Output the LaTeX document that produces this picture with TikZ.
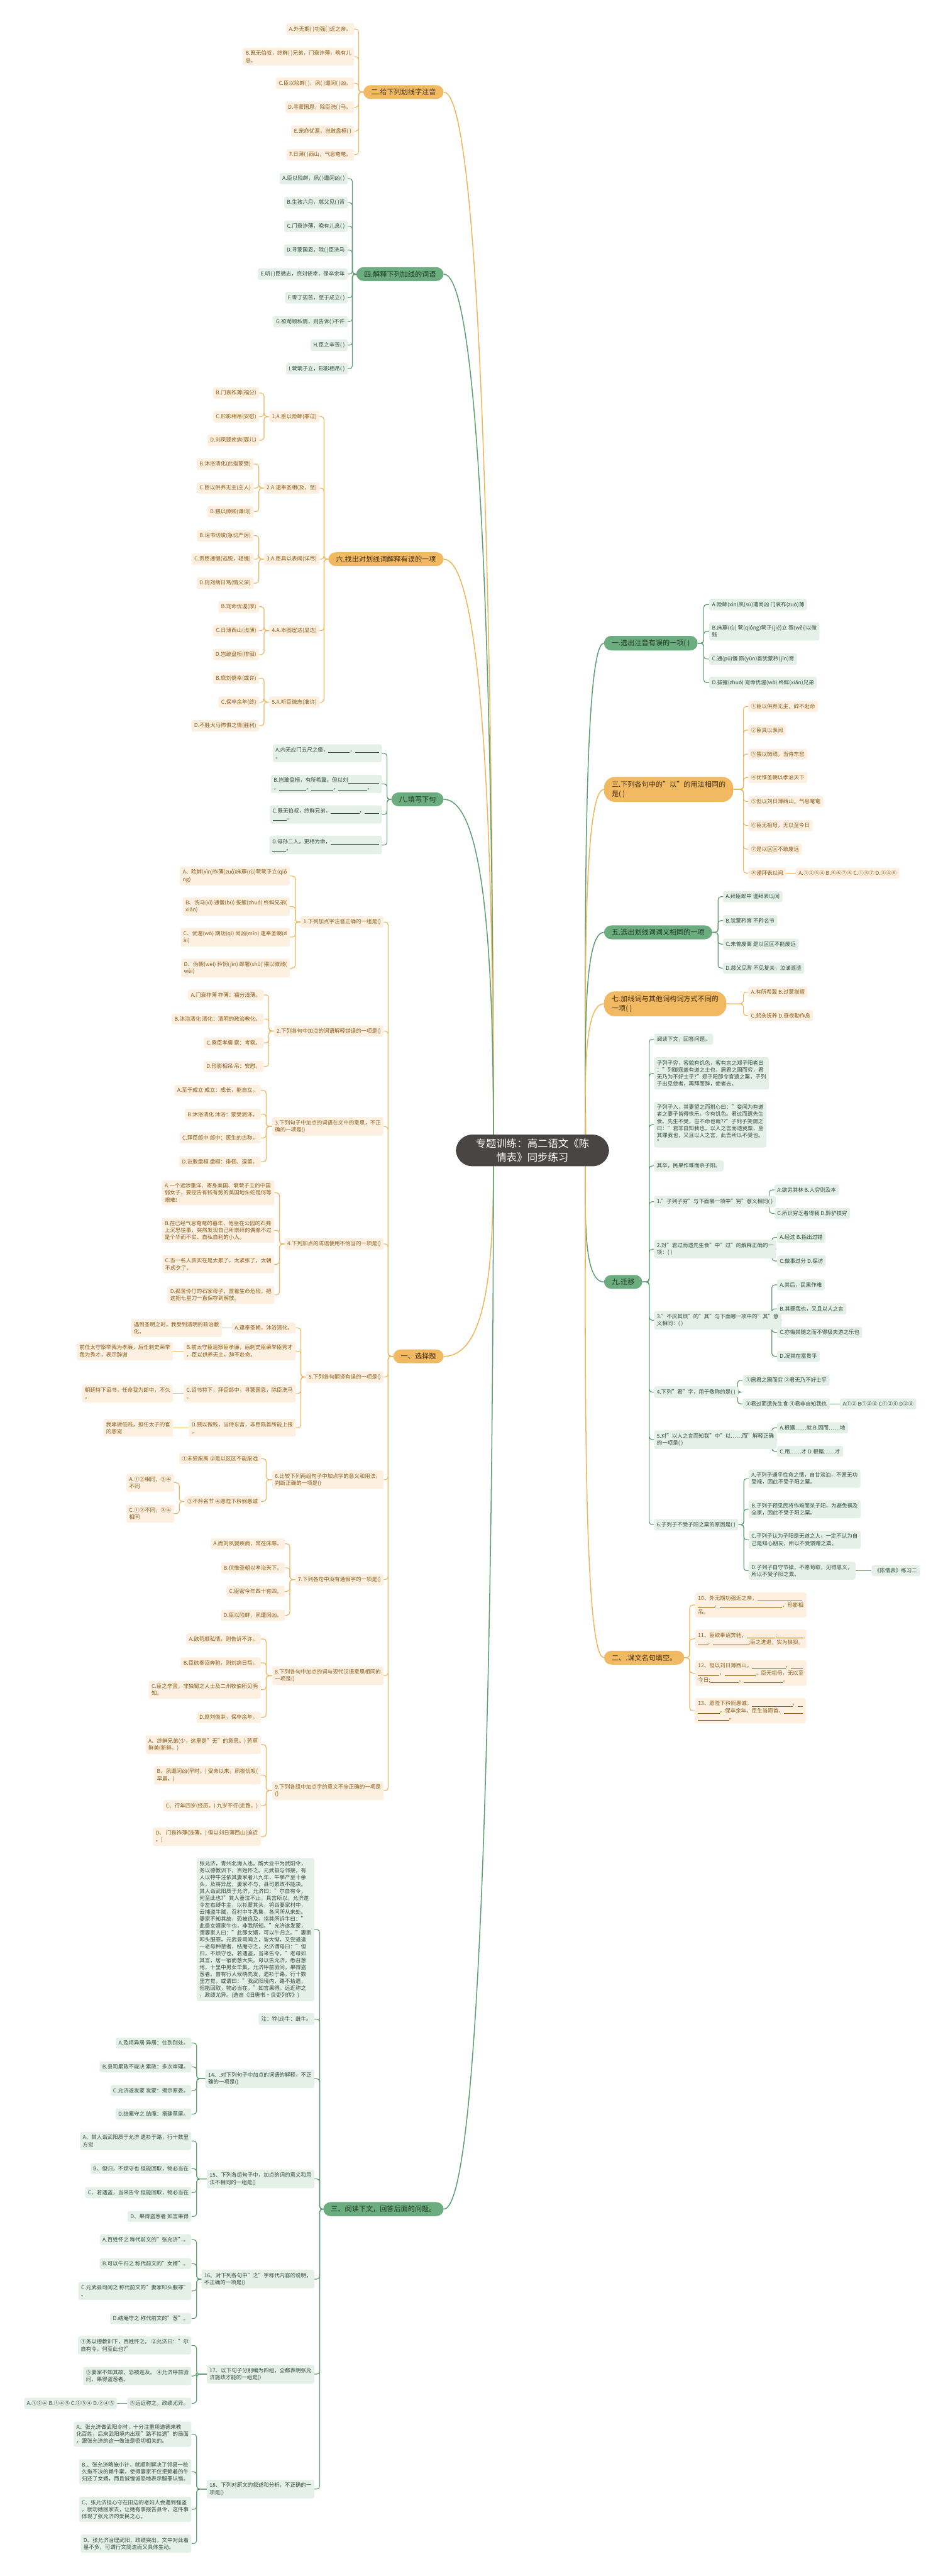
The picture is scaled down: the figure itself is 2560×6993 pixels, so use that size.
\documentclass[tikz,border=0pt]{standalone}
\usepackage{fontspec}
\setmainfont{Noto Sans CJK SC}
\usetikzlibrary{calc}
\definecolor{lofill}{HTML}{FDF0E1}
\definecolor{lotext}{HTML}{8A5A16}
\definecolor{lgfill}{HTML}{E5F0E8}
\definecolor{lgtext}{HTML}{2E4A3A}
\definecolor{mofill}{HTML}{F2B963}
\definecolor{motext}{HTML}{3F2C12}
\definecolor{mgfill}{HTML}{6BAD7E}
\definecolor{mgtext}{HTML}{1C3323}
\definecolor{lineO}{HTML}{EFB65C}
\definecolor{lineG}{HTML}{5F9E71}
\definecolor{cfill}{HTML}{4A4545}
\pgfdeclarelayer{bgl}\pgfdeclarelayer{lnl}\pgfsetlayers{bgl,lnl,main}
\newcommand\fs{\fontsize{14.5}{19.2}\selectfont}
\newcommand\fp{\fontsize{14.5}{18.8}\selectfont}
\newcommand\fm{\fontsize{19}{26}\selectfont}
\newcommand\bl[1]{\rule[-2pt]{#1pt}{0.8pt}}
\tikzset{
 leafbase/.style={rounded corners=5pt,inner xsep=7.5pt,inner ysep=8pt,align=left,font=\fs},
 lo/.style={leafbase,fill=lofill,text=lotext},
 lg/.style={leafbase,fill=lgfill,text=lgtext},
 mainbase/.style={rounded corners=20pt,inner xsep=21pt,inner ysep=10pt,align=left,font=\fm},
 mo/.style={mainbase,fill=mofill,text=motext},
 mg/.style={mainbase,fill=mgfill,text=mgtext},
 mo2/.style={mo,rounded corners=30pt,inner ysep=11pt},
 centerbox/.style={fill=cfill,text=white,rounded corners=45pt,inner xsep=54pt,inner ysep=12pt,align=center,font=\fontsize{28}{36}\selectfont},
 co/.style={draw=lineO,line width=2pt,rounded corners=8pt},
 cg/.style={draw=lineG,line width=2pt,rounded corners=8pt},
 bo/.style={draw=lineO,line width=2.6pt},
 bg/.style={draw=lineG,line width=2.6pt}
}
\newcommand\nL[5]{\node[#1,anchor=east] (#2) at (#3,#4) {#5};}
\newcommand\nR[5]{\node[#1,anchor=west] (#2) at (#3,#4) {#5};}
\newcommand\cL[4]{\draw[#1] let \p1=(#2.west) in (\p1) -- (#4pt,\y1) |- (#3.east);}
\newcommand\cR[4]{\draw[#1] let \p1=(#2.east) in (\p1) -- (#4pt,\y1) |- (#3.west);}
\newcommand\mL[3]{\draw[#1] (#2.east) .. controls +(130,0) and +(0,#3) .. (PL);}
\newcommand\mR[3]{\draw[#1] (#2.west) .. controls +(-60,0) and +(0,#3) .. (PR);}
\begin{document}
\begin{tikzpicture}[x=1pt,y=-1pt]
\begin{pgfonlayer}{bgl}\fill[white] (0,0) rectangle (2560,6993);\end{pgfonlayer}
\useasboundingbox (0,0) rectangle (2560,6993);
\coordinate (PL) at (1340,3123);
\coordinate (PR) at (1590,3123);
\node[centerbox] (C) at (1446,3123) {专题训练：高二语文《陈\\情表》同步练习};

% ===== LEFT: 二 =====
\nL{mo}{A2}{1205}{250}{二.给下列划线字注音}
\nL{lo}{A2a}{962}{79}{A.外无期( )功强( )近之亲。}
\nL{lo}{A2b}{962}{154}{B.既无伯叔，终鲜( )兄弟，门衰诈薄，晚有儿\\息。}
\nL{lo}{A2c}{962}{226}{C.臣以险衅( )，夙( )遭闵( )凶。}
\nL{lo}{A2d}{962}{291}{D.寻蒙国恩，除臣洗( )马。}
\nL{lo}{A2e}{962}{356}{E.宠命优渥，岂敢盘桓( )}
\nL{lo}{A2f}{962}{420}{F.日薄( )西山，气息奄奄。}
% ===== 四 =====
\nL{mg}{A4}{1205}{744}{四.解释下列加线的词语}
\nL{lg}{A4a}{944}{485}{A.臣以险衅，夙( )遭闵凶( )}
\nL{lg}{A4b}{944}{550}{B.生孩六月，慈父见( )背}
\nL{lg}{A4c}{944}{614}{C.门衰诈薄，晚有儿息( )}
\nL{lg}{A4d}{944}{679}{D.寻蒙国恩，除( )臣洗马}
\nL{lg}{A4e}{944}{744}{E.听( )臣微志，庶刘侥幸，保卒余年}
\nL{lg}{A4f}{944}{808}{F.零丁孤苦，至于成立( )}
\nL{lg}{A4g}{944}{873}{G.欲苟顺私情，则告诉( )不许}
\nL{lg}{A4h}{944}{937}{H.臣之辛苦( )}
\nL{lg}{A4i}{944}{1001}{I.茕茕孑立，形影相吊( )}
% ===== 六 =====
\nL{mo}{A6}{1205}{1518}{六.找出对划线词解释有误的一项}
\nL{lo}{A61}{868}{1131}{1.A.臣以险衅(罪过)}
\nL{lo}{A62}{868}{1325}{2.A.逮奉圣相(及，至)}
\nL{lo}{A63}{868}{1518}{3.A.臣具以表闻(详尽)}
\nL{lo}{A64}{868}{1712}{4.A.本图宦达(显达)}
\nL{lo}{A65}{868}{1906}{5.A.听臣微志(准许)}
\nL{lo}{A61b}{704}{1067}{B.门衰祚薄(福分)}
\nL{lo}{A61c}{704}{1131}{C.形影相吊(安慰)}
\nL{lo}{A61d}{704}{1195}{D.刘夙婴疾病(婴儿)}
\nL{lo}{A62b}{689}{1260}{B.沐浴清化(此指蒙受)}
\nL{lo}{A62c}{689}{1325}{C.臣以供养无主(主人)}
\nL{lo}{A62d}{689}{1389}{D.猥以微贱(谦词)}
\nL{lo}{A63b}{689}{1454}{B.诏书切峻(急切严厉)}
\nL{lo}{A63c}{689}{1518}{C.责臣逋慢(逃脱，轻慢)}
\nL{lo}{A63d}{689}{1583}{D.则刘病日笃(情义深)}
\nL{lo}{A64b}{704}{1647}{B.宠命优渥(厚)}
\nL{lo}{A64c}{704}{1712}{C.日薄西山(浅薄)}
\nL{lo}{A64d}{704}{1777}{D.岂敢盘桓(徘徊)}
\nL{lo}{A65b}{704}{1841}{B.庶刘侥幸(或许)}
\nL{lo}{A65c}{704}{1906}{C.保卒余年(终)}
\nL{lo}{A65d}{704}{1970}{D.不胜犬马怖惧之情(胜利)}
% ===== 八 =====
\nL{mg}{A8}{1205}{2170}{八.填写下句}
\nL{lg}{A8a}{1037}{2045}{A.内无应门五尺之僮，\bl{58}，\bl{65}\\。}
\nL{lg}{A8b}{1037}{2128}{B.岂敢盘桓，有所希冀。但以刘\bl{84}\\，\bl{73}，\bl{59}，\bl{79}。}
\nL{lg}{A8c}{1037}{2211}{C.既无伯叔，终鲜兄弟，\bl{77}，\bl{39}\\\bl{38}。}
\nL{lg}{A8d}{1037}{2294}{D.母孙二人，更相为命，\bl{131}\\\bl{38}。}
% ===== 一、选择题 =====
\nL{mo}{A1}{1205}{3682}{一、选择题}
\nL{lo}{Q1}{1042}{2503}{1.下列加点字注音正确的一组是()}
\nL{lo}{Q1a}{787}{2378}{A、险衅(xìn)祚薄(zuò)床蓐(rù)茕茕孑立(qió\\ng)}
\nL{lo}{Q1b}{787}{2461}{B、洗马(xǐ) 逋慢(bū) 拔擢(zhuó) 终鲜兄弟(\\xiǎn)}
\nL{lo}{Q1c}{787}{2544}{C、优渥(wò) 期功(qī) 闵凶(mǐn) 逮奉圣朝(d\\ài)}
\nL{lo}{Q1d}{787}{2628}{D、伪朝(wèi) 矜悯(jīn) 郎署(shǔ) 猥以微贱(\\wèi)}
\nL{lo}{Q2}{1042}{2799}{2.下列各句中加点的词语解释错误的一项是()}
\nL{lo}{Q2a}{716}{2701}{A.门衰祚薄 祚薄：福分浅薄。}
\nL{lo}{Q2b}{716}{2766}{B.沐浴清化 清化：清明的政治教化。}
\nL{lo}{Q2c}{716}{2831}{C.察臣孝廉 察：考察。}
\nL{lo}{Q2d}{716}{2895}{D.形影相吊 吊：安慰。}
\nL{lo}{Q3}{1042}{3058}{3.下列句子中加点的词语在文中的意思，不正\\确的一项是()}
\nL{lo}{Q3a}{708}{2960}{A.至于成立 成立：成长，能自立。}
\nL{lo}{Q3b}{708}{3025}{B.沐浴清化 沐浴：蒙受润泽。}
\nL{lo}{Q3c}{708}{3089}{C.拜臣郎中 郎中：医生的古称。}
\nL{lo}{Q3d}{708}{3154}{D.岂敢盘桓 盘桓：徘徊、逗留。}
\nL{lo}{Q4}{1042}{3377}{4.下列加点的成语使用不恰当的一项是()}
\nL{lo}{Q4a}{745}{3238}{A.一个远涉重洋、寄身美国、茕茕孑立的中国\\弱女子，要控告有钱有势的美国地头蛇是何等\\艰难!}
\nL{lo}{Q4b}{745}{3340}{B.在已经气息奄奄的暮年，他坐在公园的石凳\\上沉思往事，突然发现自己所崇拜的偶像不过\\是个华而不实、自私自利的小人。}
\nL{lo}{Q4c}{745}{3432}{C.当一名人质实在是太累了，太紧张了，太朝\\不虑夕了。}
\nL{lo}{Q4d}{745}{3515}{D.孤苦伶仃的石家母子，冒着生命危险，把\\这把七星刀一直保存到解放。}
\nL{lo}{Q5}{1042}{3738}{5.下列各句翻译有误的一项是()}
\nL{lo}{Q5a}{803}{3605}{A.逮奉圣朝，沐浴清化。}
\nL{lo}{Q5b}{803}{3668}{B.前太守臣逵察臣孝廉，后刺史臣荣举臣秀才\\，臣以供养无主，辞不赴命。}
\nL{lo}{Q5c}{803}{3783}{C.诏书特下，拜臣郎中，寻蒙国恩，除臣洗马\\。}
\nL{lo}{Q5d}{803}{3876}{D.猥以微贱，当侍东宫，非臣陨首所能上报\\。}
\nL{lo}{Q5ax}{603}{3605}{遇到圣明之时，我受到清明的政治教\\化。}
\nL{lo}{Q5bx}{470}{3668}{前任太守察举我为孝廉，后任刺史荣举\\我为秀才，表示辞谢}
\nL{lo}{Q5cx}{470}{3783}{朝廷特下诏书，任命我为郎中，不久\\。}
\nL{lo}{Q5dx}{470}{3876}{我卑微低贱，担任太子的官\\的恩宠}
\nL{lo}{Q6}{1042}{4017}{6.比较下列两组句子中加点字的意义和用法，\\判断正确的一项是()}
\nL{lo}{Q6a}{708}{3960}{①未尝废离 ②是以区区不能废远}
\nL{lo}{Q6b}{708}{4076}{③不矜名节 ④愿陛下矜悯愚诚}
\nL{lo}{Q6b1}{473}{4025}{A.①②相同，③④\\不同}
\nL{lo}{Q6b2}{473}{4109}{C.①②不同，③④\\相同}
\nL{lo}{Q7}{1042}{4288}{7.下列各句中没有通假字的一项是()}
\nL{lo}{Q7a}{774}{4191}{A.而刘夙婴疾病，常在床蓐。}
\nL{lo}{Q7b}{774}{4256}{B.伏惟圣朝以孝治天下。}
\nL{lo}{Q7c}{774}{4320}{C.臣密今年四十有四。}
\nL{lo}{Q7d}{774}{4385}{D.臣以险衅，夙遭闵凶。}
\nL{lo}{Q8}{1042}{4549}{8.下列各句中加点的词与现代汉语意思相同的\\一项是()}
\nL{lo}{Q8a}{708}{4449}{A.欲苟顺私情，则告诉不许。}
\nL{lo}{Q8b}{708}{4514}{B.臣欲奉诏奔驰，则刘病日笃。}
\nL{lo}{Q8c}{708}{4587}{C.臣之辛苦，非独蜀之人士及二州牧伯所见明\\知。}
\nL{lo}{Q8d}{708}{4662}{D.庶刘侥幸，保卒余年。}
\nL{lo}{Q9}{1042}{4861}{9.下列各组中加点字的意义不全正确的一项是\\()}
\nL{lo}{Q9a}{708}{4736}{A、终鲜兄弟(少，这里是"无"的意思。) 芳草\\鲜美(新鲜。)}
\nL{lo}{Q9b}{708}{4819}{B、夙遭闵凶(早时。) 受命以来，夙夜忧叹(\\早晨。)}
\nL{lo}{Q9c}{708}{4902}{C、行年四岁(经历。) 九岁不行(走路。)}
\nL{lo}{Q9d}{708}{4986}{D、 门衰祚薄(浅薄。) 但以刘日薄西山(迫近\\。)}
% ===== 三、阅读 =====
\nL{mg}{A3}{1205}{5997}{三、阅读下文，回答后面的问题。}
\node[lg,anchor=east,font=\fp] (P0) at (854,5238) {张允济，青州北海人也。隋大业中为武阳令，\\务以德教训下，百姓怀之。元武县与邻接，有\\人以牸牛注依其妻家者八九年，牛孳产至十余\\头，及将异居，妻家不与，县司累政不能决。\\其人诣武阳质于允济，允济曰："尔自有令，\\何至此也?"其人垂泣不止，具言所以。允济遂\\令左右缚牛主，以衫蒙其头，将诣妻家村中，\\云捕盗牛贼，召村中牛悉集，各问所从来处。\\妻家不知其故，恐被连及，指其所诉牛曰："\\此是女婿家牛也，非我所知。"允济遂发蒙，\\谓妻家人曰："此即女婿，可以牛归之。"妻家\\叩头服罪。元武县司闻之，皆大惭。又尝道逢\\一老母种葱者，结庵守之，允济谓母曰："但\\归，不烦守也。若遇盗，当来告令。"老母如\\其言，居一宿而葱大失。母以告允济，悉召葱\\地，十里中男女毕集，允济呼前验问，果得盗\\葱者。曾有行人候晓先发，遗衫于路，行十数\\里方觉，或谓曰："我武阳境内，路不拾遗，\\但能回取，物必当在。"如言果得。远近称之\\，政绩尤异。(选自《旧唐书·良吏列传》)};
\nL{lg}{P1}{854}{5481}{注：牸(zì)牛：雌牛。}
\nL{lg}{Q14}{854}{5643}{14、.对下列句子中加点的词语的解释，不正\\确的一项是()}
\nL{lg}{Q14a}{520}{5546}{A.及将异居 异居：住到别处。}
\nL{lg}{Q14b}{520}{5611}{B.县司累政不能决 累政：多次审理。}
\nL{lg}{Q14c}{520}{5675}{C.允济遂发蒙 发蒙：揭示原委。}
\nL{lg}{Q14d}{520}{5739}{D.结庵守之 结庵：搭建草屋。}
\nL{lg}{Q15}{854}{5915}{15、下列各组句子中，加点的词的意义和用\\法不相同的一组是()}
\nL{lg}{Q15a}{520}{5812}{A、其人诣武阳质于允济 遗衫于路，行十数里\\方觉}
\nL{lg}{Q15b}{520}{5887}{B、但归，不烦守也 但能回取，物必当在}
\nL{lg}{Q15c}{520}{5952}{C、若遇盗，当来告令 但能回取，物必当在}
\nL{lg}{Q15d}{520}{6017}{D、果得盗葱者 如言果得}
\nL{lg}{Q16}{854}{6187}{16、对下列各句中"之"字称代内容的说明，\\不正确的一项是()}
\nL{lg}{Q16a}{520}{6080}{A.百姓怀之 称代前文的"张允济"。}
\nL{lg}{Q16b}{520}{6145}{B.可以牛归之 称代前文的"女婿"。}
\nL{lg}{Q16c}{520}{6219}{C.元武县司闻之 称代前文的"妻家叩头服罪"\\。}
\nL{lg}{Q16d}{520}{6294}{D.结庵守之 称代前文的"葱"。}
\nL{lg}{Q17}{854}{6445}{17、以下句子分别编为四组，全都表明张允\\济施政才能的一组是()}
\nL{lg}{Q17a}{520}{6367}{①务以德教训下，百姓怀之。 ②允济曰："尔\\自有令，何至此也?"}
\nL{lg}{Q17b}{520}{6450}{③妻家不知其故，恐被连及。 ④允济呼前验\\问，果得盗葱者。}
\nL{lg}{Q17c}{520}{6524}{⑤远近称之，政绩尤异。}
\nL{lg}{Q17x}{318}{6524}{A.①②④ B.①④⑤ C.②③④ D.②④⑤}
\nL{lg}{Q18}{854}{6757}{18、下列对原文的叙述和分析，不正确的一\\项是()}
\nL{lg}{Q18a}{520}{6608}{A、张允济做武阳令时，十分注重用道德来教\\化百姓，后来武阳境内出现"路不拾遗"的局面\\，跟张允济的这一做法是密切相关的。}
\nL{lg}{Q18b}{520}{6710}{B.、张允济略施小计，就顺利解决了邻县一桩\\久拖不决的赖牛案，使得妻家不仅把赖着的牛\\归还了女婿，而且诚惶诚恐地表示服罪认错。}
\nL{lg}{Q18c}{520}{6812}{C、张允济担心守在田边的老妇人会遇到强盗\\，就劝她回家去，让她有事报告县令，这件事\\体现了张允济的爱民之心。}
\nL{lg}{Q18d}{520}{6905}{D、张允济治理武阳，政绩突出，文中对此着\\墨不多，可谓行文简洁而又具体生动。}

% ===== RIGHT: 一 =====
\nR{mg}{B1}{1640}{1746}{一.选出注音有误的一项( )}
\nR{lg}{B1a}{1926}{1641}{A.险衅(xìn)夙(sù)遭闵凶 门衰祚(zuò)薄}
\nR{lg}{B1b}{1926}{1714}{B.床蓐(rù) 茕(qióng)茕孑(jié)立 猥(wěi)以微\\贱}
\nR{lg}{B1c}{1926}{1789}{C.逋(pū)慢 陨(yǔn)首犹蒙矜(jīn)育}
\nR{lg}{B1d}{1926}{1853}{D.拔擢(zhuó) 宠命优渥(wò) 终鲜(xiǎn)兄弟}
% ===== 三 以 =====
\nR{mo2}{B3}{1640}{2143}{三.下列各句中的"以"的用法相同的\\是( )}
\nR{lo}{B3a}{2032}{1918}{①臣以供养无主，辞不赴命}
\nR{lo}{B3b}{2032}{1982}{②臣具以表闻}
\nR{lo}{B3c}{2032}{2047}{③猥以微贱，当侍东宫}
\nR{lo}{B3d}{2032}{2111}{④优惟圣朝以孝治天下}
\nR{lo}{B3e}{2032}{2176}{⑤但以刘日薄西山，气息奄奄}
\nR{lo}{B3f}{2032}{2241}{⑥臣无祖母，无以至今日}
\nR{lo}{B3g}{2032}{2305}{⑦是以区区不敢废远}
\nR{lo}{B3h}{2032}{2370}{⑧谨拜表以闻}
\nR{lo}{B3x}{2161}{2370}{A.①②③④ B.⑤⑥⑦⑧ C.①⑤⑦ D.②④⑥}
% ===== 五 =====
\nR{mg}{B5}{1640}{2531}{五.选出划线词词义相同的一项}
\nR{lg}{B5a}{1963}{2434}{A.拜臣郎中 谨拜表以闻}
\nR{lg}{B5b}{1963}{2499}{B.犹蒙矜育 不矜名节}
\nR{lg}{B5c}{1963}{2563}{C.未曾废离 是以区区不能废远}
\nR{lg}{B5d}{1963}{2628}{D.慈父见背 不见复关，泣涕涟涟}
% ===== 七 =====
\nR{mo2}{B7}{1640}{2725}{七.加线词与其他词构词方式不同的\\一项( )}
\nR{lo}{B7a}{2032}{2693}{A.有所希冀 B.过蒙拔擢}
\nR{lo}{B7b}{2032}{2757}{C.躬亲抚养 D.昼夜勤作息}
% ===== 九 =====
\nR{mg}{B9}{1640}{3480}{九.迁移}
\nR{lg}{B9a}{1776}{2821}{阅读下文，回答问题。}
\nR{lg}{B9b}{1776}{2914}{子列子穷，容貌有饥色，客有言之郑子阳者曰\\："列御寇盖有道之士也，居君之国而穷，君\\无乃为不好士乎?"郑子阳即令官遗之粟，子列\\子出见使者，再拜而辞，使者去。}
\nR{lg}{B9c}{1776}{3053}{子列子入，其妻望之而拊心曰："妾闻为有道\\者之妻子皆得佚乐。今有饥色。君过而遗先生\\食。先生不受，岂不命也哉??"子列子笑谓之\\曰："君非自知我也。以人之言而遗我粟，至\\其罪我也，又且以人之言，此吾所以不受也。\\"}
\nR{lg}{B9d}{1776}{3165}{其卒，民果作难而杀子阳。}
\nR{lg}{R1}{1776}{3262}{1."子列子穷"与下面哪一项中"穷"意义相同( )}
\nR{lg}{R1a}{2103}{3230}{A.欲穷其林 B.人穷则及本}
\nR{lg}{R1b}{2103}{3294}{C.所识穷乏者得我 D.黔驴技穷}
\nR{lg}{R2}{1776}{3391}{2.对"君过而遗先生食"中"过"的解释正确的一\\项：( )}
\nR{lg}{R2a}{2110}{3359}{A.经过 B.指出过错}
\nR{lg}{R2b}{2110}{3423}{C.做事过分 D.探访}
\nR{lg}{R3}{1776}{3584}{3."不厌其烦"的"其"与下面哪一项中的"其"意\\义相同：( )}
\nR{lg}{R3a}{2110}{3488}{A.其后，民果作难}
\nR{lg}{R3b}{2110}{3553}{B.其罪我也，又且以人之言}
\nR{lg}{R3c}{2110}{3617}{C.亦悔其随之而不得极夫游之乐也}
\nR{lg}{R3d}{2110}{3682}{D.况其在富贵乎}
\nR{lg}{R4}{1776}{3779}{4.下列"君"字，用于敬称的是( )}
\nR{lg}{R4a}{2017}{3747}{①居君之国而穷 ②君无乃不好士乎}
\nR{lg}{R4b}{2017}{3811}{③君过而遗先生食 ④君非自知我也}
\nR{lg}{R4x}{2281}{3811}{A①② B①②③ C①②④ D②③}
\nR{lg}{R5}{1776}{3908}{5.对"以人之言而知我"中"以……而"解释正确\\的一项是( )}
\nR{lg}{R5a}{2110}{3876}{A.根据……就 B.因而……地}
\nR{lg}{R5b}{2110}{3940}{C.用……才 D.根据……才}
\nR{lg}{R6}{1776}{4139}{6.子列子不受子阳之粟的原因是( )}
\nR{lg}{R6a}{2033}{4014}{A.子列子通乎性命之情，自甘淡泊，不愿无功\\受禄，因此不受子阳之粟。}
\nR{lg}{R6b}{2033}{4097}{B.子列子预见民将作难而杀子阳，为避免祸及\\全家，因此不受子阳之粟。}
\nR{lg}{R6c}{2033}{4180}{C.子列子认为子阳是无道之人，一定不认为自\\己是知心朋友，所以不受馈赠之粟。}
\nR{lg}{R6d}{2033}{4264}{D.子列子自守节操，不愿苟取，见得恩义，\\所以不受子阳之粟。}
\nR{lg}{R6x}{2367}{4264}{《陈情表》练习二}
% ===== 二 名句 =====
\nR{mo}{B2}{1640}{4500}{二、.课文名句填空。}
\nR{lo}{B2a}{1888}{4357}{10、外无期功强近之亲，\bl{122}\\\bl{45}，\bl{169}，形影相\\吊。}
\nR{lo}{B2b}{1888}{4449}{11、臣欲奉诏奔驰，\bl{78};\bl{72}\\\bl{26}，\bl{97};臣之进退，实为狼狈。}
\nR{lo}{B2c}{1888}{4542}{12、但以刘日薄西山，\bl{91}，\bl{32}\\\bl{58}，\bl{84}。臣无祖母，无以至\\今日;\bl{77}，\bl{106}。}
\nR{lo}{B2d}{1888}{4644}{13、愿陛下矜悯愚诚，\bl{110}，\bl{13}\\\bl{59}，保卒余年。臣生当陨首，\bl{52}\\\bl{84}。}

% ===== connectors =====
\begin{pgfonlayer}{lnl}
\mL{bo}{A2}{-500}
\mL{bg}{A4}{-500}
\mL{bo}{A6}{-450}
\mL{bg}{A8}{-350}
\mL{bo}{A1}{250}
\mL{bg}{A3}{450}
\mR{bg}{B1}{-450}
\mR{bo}{B3}{-350}
\mR{bg}{B5}{-250}
\mR{bo}{B7}{-150}
\mR{bg}{B9}{150}
\mR{bo}{B2}{450}
\foreach \c in {A2a,A2b,A2c,A2d,A2e,A2f} {\cL{co}{A2}{\c}{974}}
\foreach \c in {A4a,A4b,A4c,A4d,A4e,A4f,A4g,A4h,A4i} {\cL{cg}{A4}{\c}{957}}
\foreach \c in {A61,A62,A63,A64,A65} {\cL{co}{A6}{\c}{880}}
\foreach \c in {A61b,A61c,A61d} {\cL{co}{A61}{\c}{717}}
\foreach \c in {A62b,A62c,A62d} {\cL{co}{A62}{\c}{703}}
\foreach \c in {A63b,A63c,A63d} {\cL{co}{A63}{\c}{703}}
\foreach \c in {A64b,A64c,A64d} {\cL{co}{A64}{\c}{717}}
\foreach \c in {A65b,A65c,A65d} {\cL{co}{A65}{\c}{717}}
\foreach \c in {A8a,A8b,A8c,A8d} {\cL{cg}{A8}{\c}{1051}}
\foreach \c in {Q1,Q2,Q3,Q4,Q5,Q6,Q7,Q8,Q9} {\cL{co}{A1}{\c}{1054}}
\foreach \c in {Q1a,Q1b,Q1c,Q1d} {\cL{co}{Q1}{\c}{802}}
\foreach \c in {Q2a,Q2b,Q2c,Q2d} {\cL{co}{Q2}{\c}{730}}
\foreach \c in {Q3a,Q3b,Q3c,Q3d} {\cL{co}{Q3}{\c}{723}}
\foreach \c in {Q4a,Q4b,Q4c,Q4d} {\cL{co}{Q4}{\c}{759}}
\foreach \c in {Q5a,Q5b,Q5c,Q5d} {\cL{co}{Q5}{\c}{817}}
\draw[co] (Q5a.west) -- (Q5ax.east);
\draw[co] (Q5b.west) -- (Q5bx.east);
\draw[co] (Q5c.west) -- (Q5cx.east);
\draw[co] (Q5d.west) -- (Q5dx.east);
\foreach \c in {Q6a,Q6b} {\cL{co}{Q6}{\c}{723}}
\foreach \c in {Q6b1,Q6b2} {\cL{co}{Q6b}{\c}{487}}
\foreach \c in {Q7a,Q7b,Q7c,Q7d} {\cL{co}{Q7}{\c}{787}}
\foreach \c in {Q8a,Q8b,Q8c,Q8d} {\cL{co}{Q8}{\c}{723}}
\foreach \c in {Q9a,Q9b,Q9c,Q9d} {\cL{co}{Q9}{\c}{723}}
\foreach \c in {P0,P1,Q14,Q15,Q16,Q17,Q18} {\cL{cg}{A3}{\c}{868}}
\foreach \c in {Q14a,Q14b,Q14c,Q14d} {\cL{cg}{Q14}{\c}{534}}
\foreach \c in {Q15a,Q15b,Q15c,Q15d} {\cL{cg}{Q15}{\c}{534}}
\foreach \c in {Q16a,Q16b,Q16c,Q16d} {\cL{cg}{Q16}{\c}{534}}
\foreach \c in {Q17a,Q17b,Q17c} {\cL{cg}{Q17}{\c}{534}}
\draw[cg] (Q17c.west) -- (Q17x.east);
\foreach \c in {Q18a,Q18b,Q18c,Q18d} {\cL{cg}{Q18}{\c}{534}}
\foreach \c in {B1a,B1b,B1c,B1d} {\cR{cg}{B1}{\c}{1911}}
\foreach \c in {B3a,B3b,B3c,B3d,B3e,B3f,B3g,B3h} {\cR{co}{B3}{\c}{2019}}
\draw[co] (B3h.east) -- (B3x.west);
\foreach \c in {B5a,B5b,B5c,B5d} {\cR{cg}{B5}{\c}{1950}}
\foreach \c in {B7a,B7b} {\cR{co}{B7}{\c}{2019}}
\foreach \c in {B9a,B9b,B9c,B9d,R1,R2,R3,R4,R5,R6} {\cR{cg}{B9}{\c}{1763}}
\foreach \c in {R1a,R1b} {\cR{cg}{R1}{\c}{2089}}
\foreach \c in {R2a,R2b} {\cR{cg}{R2}{\c}{2096}}
\foreach \c in {R3a,R3b,R3c,R3d} {\cR{cg}{R3}{\c}{2096}}
\foreach \c in {R4a,R4b} {\cR{cg}{R4}{\c}{2003}}
\draw[cg] (R4b.east) -- (R4x.west);
\foreach \c in {R5a,R5b} {\cR{cg}{R5}{\c}{2096}}
\foreach \c in {R6a,R6b,R6c,R6d} {\cR{cg}{R6}{\c}{2020}}
\draw[cg] (R6d.east) -- (R6x.west);
\foreach \c in {B2a,B2b,B2c,B2d} {\cR{co}{B2}{\c}{1873}}
\end{pgfonlayer}
\end{tikzpicture}
\end{document}
